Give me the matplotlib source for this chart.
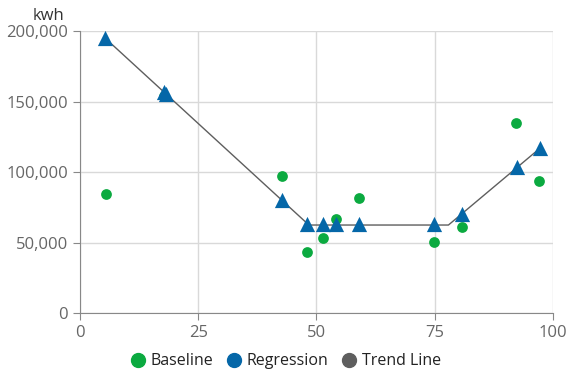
import matplotlib.pyplot as plt
from matplotlib.lines import Line2D
from matplotlib.ticker import FuncFormatter

plt.rcParams['font.family'] = ['Open Sans', 'DejaVu Sans']

# ── Data ──────────────────────────────────────────────────────────────────────
baseline_x = [5.5, 17.8, 42.7, 48.0, 51.4, 54.1, 59.0, 74.8, 80.8, 92.2, 97.0]
baseline_y = [84400, 154000, 97000, 43500, 53000, 66600, 81500, 50200, 61000, 134500, 93800]

regression_x = [5.3, 17.8, 18.2, 42.7, 48.0, 51.4, 54.1, 59.0, 74.8, 80.8, 92.4, 97.3]
regression_y = [195000, 157000, 155500, 80000, 63000, 63000, 63000, 63000, 63000, 70500, 103500, 117000]

trend_x = [5.3, 48.4, 77.9, 97.3]
trend_y = [195000, 62400, 62400, 117000]

GREEN = "#0BAA40"
BLUE = "#0567A8"
GREY = "#5E5E5E"

# ── Figure ────────────────────────────────────────────────────────────────────
fig = plt.figure(figsize=(5.78, 3.92), dpi=100)
ax = fig.add_axes([0.1384, 0.2015, 0.8183, 0.7194])

ax.plot(trend_x, trend_y, color=GREY, lw=1, zorder=2)
ax.scatter(baseline_x, baseline_y, s=60, color=GREEN, zorder=3, linewidths=0)
ax.scatter(regression_x, regression_y, s=120, marker="^", color=BLUE, zorder=4, linewidths=0)

ax.set_xlim(0, 100)
ax.set_ylim(0, 200000)
ax.set_xticks([0, 25, 50, 75, 100])
ax.set_yticks([0, 50000, 100000, 150000, 200000])
ax.yaxis.set_major_formatter(FuncFormatter(lambda v, p: f"{int(v):,}"))
ax.grid(True, color="#D9D9D9", lw=1)
ax.set_axisbelow(True)

for s in ["top", "right"]:
    ax.spines[s].set_visible(False)
for s in ["left", "bottom"]:
    ax.spines[s].set_color("#888888")
ax.tick_params(colors="#888888", labelcolor="#666666", labelsize=12, length=5)

fig.text(0.057, 0.95, "kwh", fontsize=12, color="#333333")

handles = [Line2D([], [], marker="o", ls="", color=c, markersize=10) for c in (GREEN, BLUE, GREY)]
fig.legend(handles, ["Baseline", "Regression", "Trend Line"], loc="center",
           bbox_to_anchor=(0.487, 0.078), ncol=3, frameon=False, fontsize=11.5,
           handletextpad=-0.2, columnspacing=0.3, labelcolor="#222222")

plt.savefig("out.png", dpi=100)
